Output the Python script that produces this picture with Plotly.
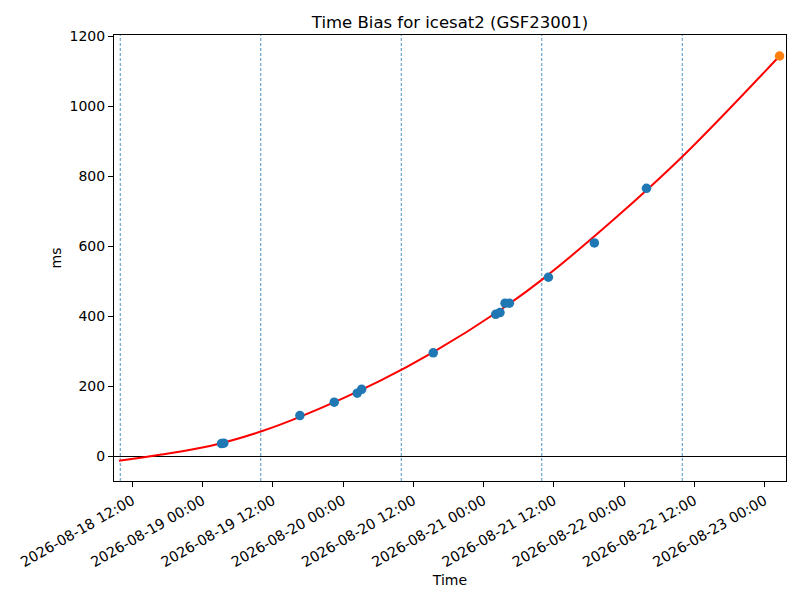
import plotly.graph_objects as go

# observed time bias samples
obs_times = [
    "2026-08-19 03:15", "2026-08-19 03:38", "2026-08-19 16:38", "2026-08-19 22:30",
    "2026-08-20 02:26", "2026-08-20 03:11", "2026-08-20 15:25", "2026-08-21 02:05",
    "2026-08-21 02:49", "2026-08-21 03:41", "2026-08-21 04:25", "2026-08-21 11:05",
    "2026-08-21 18:56", "2026-08-22 03:50",
]
obs_ms = [37, 38, 117, 155, 181, 192, 296, 406, 411, 438, 438, 512, 610, 766]

# predicted value (orange)
pred_time = ["2026-08-23 02:34"]
pred_ms = [1144]

# fitted curve
fit_times = [
    "2026-08-18 09:44", "2026-08-18 16:42", "2026-08-19 01:15", "2026-08-19 10:05",
    "2026-08-19 16:38", "2026-08-20 06:18", "2026-08-20 15:25", "2026-08-21 03:00",
    "2026-08-21 10:03", "2026-08-21 22:11", "2026-08-22 09:59", "2026-08-23 02:34",
]
fit_ms = [-12, 5, 30, 72, 113, 216, 298, 420, 506, 676, 857, 1144]

# daily markers (dashed verticals)
day_lines = [
    "2026-08-18 09:57", "2026-08-19 09:57", "2026-08-20 09:57",
    "2026-08-21 09:57", "2026-08-22 09:57",
]

x_range = ["2026-08-18 08:53", "2026-08-23 03:40"]
y_range = [-70, 1204]

fig = go.Figure()

fig.add_trace(go.Scatter(x=fit_times, y=fit_ms, mode="lines",
                         line=dict(color="red", width=2, shape="spline", smoothing=1.0),
                         showlegend=False, hoverinfo="skip"))
fig.add_trace(go.Scatter(x=obs_times, y=obs_ms, mode="markers",
                         marker=dict(color="#1f77b4", size=9.5),
                         showlegend=False))
fig.add_trace(go.Scatter(x=pred_time, y=pred_ms, mode="markers",
                         marker=dict(color="#ff7f0e", size=9.5),
                         showlegend=False))

for t in day_lines:
    fig.add_shape(type="line", xref="x", yref="paper", x0=t, x1=t, y0=0, y1=1,
                  line=dict(color="#1f77b4", width=0.8, dash="3px,2px"), layer="below")

fig.update_layout(
    width=800, height=600,
    margin=dict(l=114, r=14, t=35, b=119, autoexpand=False),
    paper_bgcolor="white", plot_bgcolor="white",
    font=dict(family="DejaVu Sans", size=14, color="black"),
    title=dict(text="Time Bias for icesat2 (GSF23001)", x=0.5625, xanchor="center",
               y=0.963, yanchor="middle", font=dict(size=16.5)),
)

fig.update_xaxes(
    type="date", range=x_range,
    tick0="2026-08-18 00:00", dtick=12 * 3600 * 1000,
    tickformat="%Y-%m-%d %H:%M", tickangle=-30,
    tickfont=dict(size=14.3),
    ticks="outside", ticklen=5, tickwidth=1, tickcolor="black",
    showline=True, linecolor="black", linewidth=1, mirror=True,
    showgrid=False, zeroline=False,
    title=dict(text="Time", font=dict(size=14), standoff=5),
)
fig.update_yaxes(
    range=y_range, tickvals=[0, 200, 400, 600, 800, 1000, 1200],
    ticks="outside", ticklen=5, tickwidth=1, tickcolor="black",
    showline=True, linecolor="black", linewidth=1, mirror=True,
    showgrid=False, zeroline=True, zerolinecolor="black", zerolinewidth=1,
    title=dict(text="ms", font=dict(size=14), standoff=4),
)

# page body has a default 8px margin; drop it so the figure sits at (0, 0)
fig.write_html("out.html", config={"displayModeBar": False},
               post_script="document.body.style.margin='0';")
